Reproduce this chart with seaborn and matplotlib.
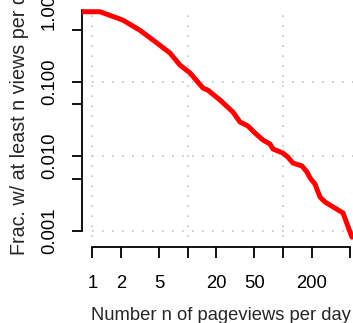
import numpy as np
import pandas as pd
import matplotlib
matplotlib.use("Agg")
import matplotlib.pyplot as plt
from matplotlib.ticker import FixedLocator, FixedFormatter, NullLocator
import seaborn as sns

# Complementary CDF of daily pageviews per page
n_views = [0.78, 1.2, 2.1, 3.16, 4.77, 6.52, 8.3, 10.6, 14.5, 16.3, 21.8, 29.8,
           35.3, 42.9, 50.7, 61.5, 72.9, 78.4, 99.8, 112, 127, 158, 178, 192,
           216, 244, 275, 425, 527]
frac_at_least = [0.87, 0.87, 0.67, 0.49, 0.33, 0.243, 0.167, 0.131, 0.082, 0.077,
                 0.0568, 0.0392, 0.0288, 0.0254, 0.0205, 0.0165, 0.0146, 0.0125,
                 0.0110, 0.00975, 0.0081, 0.00738, 0.00614, 0.0051, 0.00423,
                 0.00283, 0.00243, 0.00173, 0.00082]

x_ticks = [1, 2, 5, 10, 20, 50, 100, 200, 500]
x_tick_labels = ["1", "2", "5", "", "20", "50", "", "200", ""]
y_ticks = [0.001, 0.005, 0.01, 0.05, 0.1, 0.5, 1.0]
y_tick_labels = ["0.001", "", "0.010", "", "0.100", "", "1.000"]
x_grid = [1, 10, 100]
y_grid = [0.001, 0.01, 0.1]

df = pd.DataFrame({"n": n_views, "frac": frac_at_least})

sns.set_style("white")
plt.rcParams["font.family"] = ["Liberation Sans", "DejaVu Sans"]

W, H = 353, 323
fig = plt.figure(figsize=(W / 100, H / 100), dpi=100)
fig.patch.set_facecolor("white")

# plot region in pixels
left_px, right_px, top_px, bottom_px = 82, 353, 0, 240
ax = fig.add_axes([left_px / W, 1 - bottom_px / H,
                   (right_px - left_px) / W, (bottom_px - top_px) / H])
ax.set_facecolor("white")
ax.set_xscale("log")
ax.set_yscale("log")

# log-axis calibration: x=1 at 92.3 px, 95.4 px/decade; y=0.1 at 81.7 px, 74.5 px/decade
ax.set_xlim(10 ** ((left_px - 92.3) / 95.4), 10 ** ((right_px - 92.3) / 95.4))
ax.set_ylim(10 ** (-1 - (bottom_px - 81.7) / 74.5), 10 ** (-1 + (81.7 - top_px) / 74.5))

grid_kw = dict(color="#c4c4c4", linewidth=1.2, linestyle=(0, (1, 5)), zorder=1)
for gx in x_grid:
    ax.axvline(gx, ymin=(bottom_px - 237) / (bottom_px - top_px),
               ymax=(bottom_px - 15) / (bottom_px - top_px), **grid_kw)
for gy in y_grid:
    ax.axhline(gy, xmin=(92 - left_px) / (right_px - left_px), xmax=1, **grid_kw)

sns.lineplot(data=df, x="n", y="frac", ax=ax, color="#ff0000", linewidth=3.6,
             estimator=None, sort=False, zorder=3)
ax.set_xlabel("")
ax.set_ylabel("")

for s in ["top", "right"]:
    ax.spines[s].set_visible(False)
ax.spines["left"].set_bounds(0.001, 0.92)
ax.spines["bottom"].set_bounds(1, 500)
ax.spines["bottom"].set_position(("outward", 5))
for s in ["left", "bottom"]:
    ax.spines[s].set_linewidth(1.3)
    ax.spines[s].set_color("black")

ax.xaxis.set_major_locator(FixedLocator(x_ticks))
ax.xaxis.set_major_formatter(FixedFormatter(x_tick_labels))
ax.xaxis.set_minor_locator(NullLocator())
ax.yaxis.set_major_locator(FixedLocator(y_ticks))
ax.yaxis.set_major_formatter(FixedFormatter(y_tick_labels))
ax.yaxis.set_minor_locator(NullLocator())

ax.tick_params(axis="x", direction="out", length=8, width=1.3, pad=12.5,
               labelsize=13.3, colors="black", bottom=True)
ax.tick_params(axis="y", direction="out", length=7.2, width=1.3, pad=10,
               labelsize=13.3, colors="black", left=True)
for lab in ax.get_yticklabels():
    lab.set_rotation(90)
    lab.set_va("center")
ax.yaxis.get_major_ticks()[-1].tick1line.set_visible(False)

fig.text(221 / W, 1 - 320 / H, "Number n of pageviews per day", fontsize=13.2,
         ha="center", va="baseline")
fig.text(25 / W, 1 - 255 / H, "Frac. w/ at least n views per day", fontsize=14.2,
         rotation=90, rotation_mode="anchor", ha="left", va="baseline")

fig.savefig("out.png", dpi=100, facecolor="white")
